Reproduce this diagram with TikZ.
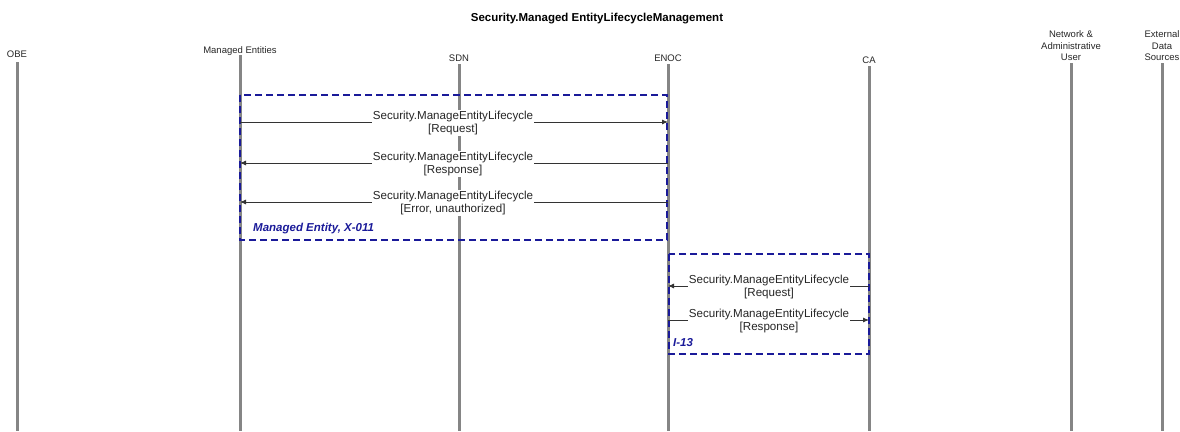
\documentclass[tikz,border=0pt]{standalone}
\usepackage{fontspec}
\setmainfont{Liberation Sans}
\usetikzlibrary{arrows.meta}
\definecolor{lifegray}{HTML}{858585}
\definecolor{framenavy}{HTML}{1A1A99}
\definecolor{msggray}{HTML}{333333}
\begin{document}
\begin{tikzpicture}[x=1pt,y=-1pt,
  lifeline/.style={draw=lifegray, line width=3pt},
  head/.style={font=\fontsize{9.5}{11.5}\selectfont, align=center, text=black!85, inner sep=0pt},
  msg/.style={draw=msggray, line width=0.8pt, -{Latex[length=6pt,width=5pt]}},
  msgtext/.style={fill=white, inner sep=1pt, align=center, text=black!85, font=\fontsize{11.6}{13.8}\selectfont},
  frame/.style={draw=framenavy, dash pattern=on 7pt off 4pt, line width=1.2pt},
  framelabel/.style={text=framenavy, font=\fontsize{11.5}{13}\selectfont\bfseries\itshape, anchor=west, inner sep=0pt}]

\useasboundingbox (0,0) rectangle (1180,431);

% title
\node[font=\fontsize{11.5}{13}\selectfont\bfseries] (title) at (597,19) {Security.Managed EntityLifecycleManagement};

% participant heads
\node[head] (obe)  at (17,54)   {OBE};
\node[head] (me)   at (240,51)  {Managed Entities};
\node[head] (sdn)  at (459,58)  {SDN};
\node[head] (enoc) at (668,58)  {ENOC};
\node[head] (ca)   at (869,60)  {CA};
\node[head] (nau)  at (1071,46) {Network \&\\Administrative\\User};
\node[head] (eds)  at (1162,46) {External\\Data\\Sources};

% lifeline bottoms
\coordinate (obe-b)  at (17,431);
\coordinate (me-b)   at (240,431);
\coordinate (sdn-b)  at (459,431);
\coordinate (enoc-b) at (668,431);
\coordinate (ca-b)   at (869,431);
\coordinate (nau-b)  at (1071,431);
\coordinate (eds-b)  at (1162,431);

% lifelines
\draw[lifeline] (17,62)   -- (obe-b);
\draw[lifeline] (240,55)  -- (me-b);
\draw[lifeline] (459,64)  -- (sdn-b);
\draw[lifeline] (668,64)  -- (enoc-b);
\draw[lifeline] (869,66)  -- (ca-b);
\draw[lifeline] (1071,63) -- (nau-b);
\draw[lifeline] (1162,63) -- (eds-b);

% interaction frames
\draw[frame] (240,95) rectangle (667,240);
\node[framelabel] (f1) at (253,229) {Managed Entity, X-011};
\draw[frame] (669,254) rectangle (869,354);
\node[framelabel] (f2) at (673,343) {I-13};

% message anchor points on the lifelines
\coordinate (me1)   at (240,122);
\coordinate (enoc1) at (668,122);
\coordinate (me2)   at (240,163);
\coordinate (enoc2) at (668,163);
\coordinate (me3)   at (240,202);
\coordinate (enoc3) at (668,202);
\coordinate (enoc4) at (668,286);
\coordinate (ca4)   at (869,286);
\coordinate (enoc5) at (668,320);
\coordinate (ca5)   at (869,320);

% messages
\draw[msg] (me1) -- (enoc1);
\draw[msg] (enoc2) -- (me2);
\draw[msg] (enoc3) -- (me3);
\draw[msg] (ca4) -- (enoc4);
\draw[msg] (enoc5) -- (ca5);

% message labels
\node[msgtext] (m1) at (453,123) {Security.ManageEntityLifecycle\\{}[Request]};
\node[msgtext] (m2) at (453,164) {Security.ManageEntityLifecycle\\{}[Response]};
\node[msgtext] (m3) at (453,203) {Security.ManageEntityLifecycle\\{}[Error, unauthorized]};
\node[msgtext] (m4) at (769,287) {Security.ManageEntityLifecycle\\{}[Request]};
\node[msgtext] (m5) at (769,321) {Security.ManageEntityLifecycle\\{}[Response]};
\end{tikzpicture}
\end{document}
